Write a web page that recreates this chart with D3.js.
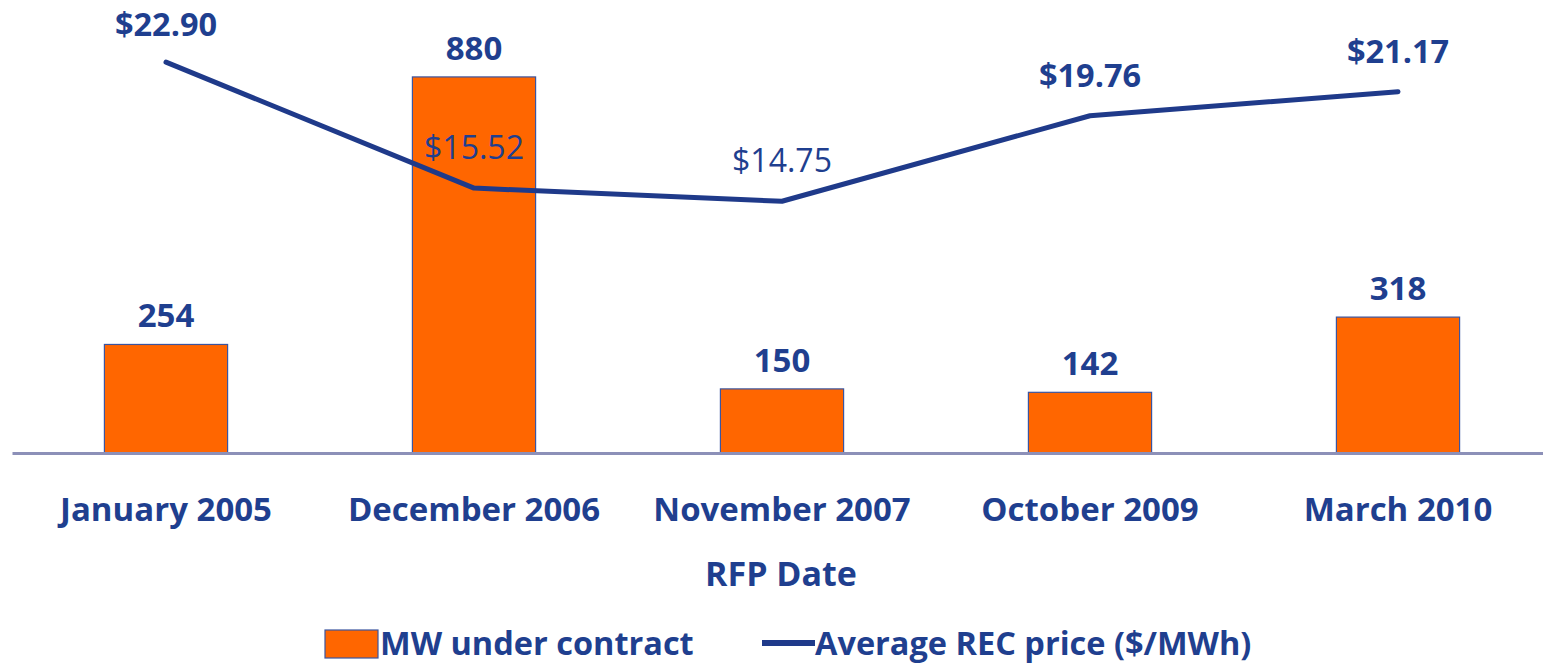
<!DOCTYPE html>
<html>
<head>
<meta charset="utf-8">
<script src="https://cdn.jsdelivr.net/npm/d3@7"></script>
<style>
  body { margin: 0; background: #fff; }
  text { font-family: "Open Sans", sans-serif; fill: #1F3F8F; }
</style>
</head>
<body>
<div id="chart"></div>
<script>
// Data
var categories = ["January 2005", "December 2006", "November 2007", "October 2009", "March 2010"];
var mwValues = [254, 880, 150, 142, 318];
var recPrices = [22.90, 15.52, 14.75, 19.76, 21.17];
var priceLabels = ["$22.90", "$15.52", "$14.75", "$19.76", "$21.17"];
var boldPrice = [true, false, false, true, true];
var legendLabels = ["MW under contract", "Average REC price ($/MWh)"];

function init() {
    var w = 1543;
    var h = 665;
    var baseY = 453;

    var orange = "#FF6600";
    var navy = "#1F3A8A";

    var svg = d3.select("#chart")
                .append("svg")
                .attr("width", w)
                .attr("height", h);

    // x as bands, bars on the left scale, prices on a hidden right scale
    var x = d3.scaleBand()
              .domain(categories)
              .range([12, 1552])
              .paddingInner(0.6)
              .paddingOuter(0.3);

    var yBar = d3.scaleLinear().domain([0, 1060]).range([baseY, 0]);
    var yLine = d3.scaleLinear().domain([0, 26.54]).range([baseY, 0]);

    // Bars
    svg.selectAll("rect.bar")
       .data(mwValues)
       .enter()
       .append("rect")
       .attr("class", "bar")
       .attr("x", function(d, i) { return x(categories[i]); })
       .attr("y", function(d) { return yBar(d); })
       .attr("width", x.bandwidth())
       .attr("height", function(d) { return baseY - yBar(d); })
       .attr("fill", orange)
       .attr("stroke", "#3B55A0")
       .attr("stroke-width", 1.2);

    // Bar value labels
    svg.selectAll("text.barlabel")
       .data(mwValues)
       .enter()
       .append("text")
       .attr("class", "barlabel")
       .attr("x", function(d, i) { return x(categories[i]) + x.bandwidth() / 2; })
       .attr("y", function(d) { return yBar(d) - 17; })
       .attr("text-anchor", "middle")
       .attr("font-size", "33px")
       .attr("font-weight", "bold")
       .text(function(d) { return d; });

    // Bottom axis (its domain line is the baseline)
    var axis = svg.append("g")
                  .attr("transform", "translate(0," + baseY + ")")
                  .call(d3.axisBottom(x).tickSize(0).tickPadding(45));
    axis.select(".domain")
        .attr("stroke", "#8C90B8")
        .attr("stroke-width", 3);
    axis.selectAll("text")
        .attr("font-family", "Open Sans, sans-serif")
        .attr("font-size", "33px")
        .attr("font-weight", "bold")
        .attr("fill", "#1F3F8F");

    // Price line
    var line = d3.line()
                 .x(function(d, i) { return x(categories[i]) + x.bandwidth() / 2; })
                 .y(function(d) { return yLine(d); });

    svg.append("path")
       .datum(recPrices)
       .attr("d", line)
       .attr("fill", "none")
       .attr("stroke", navy)
       .attr("stroke-width", 5)
       .attr("stroke-linecap", "round")
       .attr("stroke-linejoin", "round");

    // Price labels (kept inside the top edge)
    svg.selectAll("text.pricelabel")
       .data(recPrices)
       .enter()
       .append("text")
       .attr("class", "pricelabel")
       .attr("x", function(d, i) { return x(categories[i]) + x.bandwidth() / 2; })
       .attr("y", function(d) { return Math.max(yLine(d) - 29, 36); })
       .attr("text-anchor", "middle")
       .attr("font-size", function(d, i) { return boldPrice[i] ? "32.5px" : "32px"; })
       .attr("font-weight", function(d, i) { return boldPrice[i] ? "bold" : "normal"; })
       .text(function(d, i) { return priceLabels[i]; });

    // Axis title
    svg.append("text")
       .attr("x", 781)
       .attr("y", 586)
       .attr("text-anchor", "middle")
       .attr("font-size", "34px")
       .attr("font-weight", "bold")
       .text("RFP Date");

    // Legend
    svg.append("rect")
       .attr("x", 325).attr("y", 630)
       .attr("width", 53).attr("height", 28)
       .attr("fill", orange)
       .attr("stroke", "#3B55A0")
       .attr("stroke-width", 1.2);
    svg.append("text")
       .attr("x", 380).attr("y", 655)
       .attr("font-size", "32.5px")
       .attr("font-weight", "bold")
       .text(legendLabels[0]);

    svg.append("line")
       .attr("x1", 762).attr("x2", 815)
       .attr("y1", 643).attr("y2", 643)
       .attr("stroke", navy)
       .attr("stroke-width", 6);
    svg.append("text")
       .attr("x", 815).attr("y", 655)
       .attr("font-size", "32.5px")
       .attr("font-weight", "bold")
       .text(legendLabels[1]);
}

window.onload = init;
</script>
</body>
</html>
